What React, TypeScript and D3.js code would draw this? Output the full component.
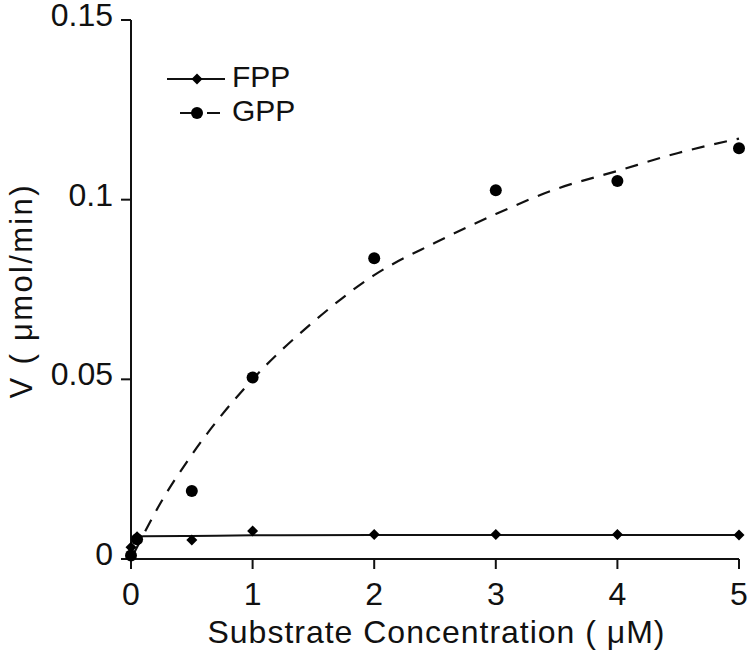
import React from 'react';
import * as d3 from 'd3';

// substrate concentrations (uM)
const concentrations = [0, 0.05, 0.5, 1, 2, 3, 4, 5];
// measured rates (umol/min)
const fppRates = [0.0033, 0.0062, 0.0053, 0.0078, 0.0068, 0.0068, 0.0068, 0.0067];
const gppRates = [0.001, 0.0055, 0.0189, 0.0505, 0.0837, 0.1026, 0.1052, 0.1143];

// fitted curves
const fppFitX = [0.03, 0.1, 0.5, 1, 2, 3, 4, 5];
const fppFitY = [0.005, 0.0063, 0.0064, 0.0066, 0.0067, 0.0067, 0.0067, 0.0067];
const gppFitX = [0.03, 0.25, 0.5, 1, 1.5, 2, 2.5, 3, 3.5, 4, 4.5, 5];
const gppFitY = [0.002, 0.016, 0.029, 0.05, 0.066, 0.079, 0.088, 0.096, 0.103, 0.108, 0.113, 0.117];

const xTicks = [0, 1, 2, 3, 4, 5];
const yTicks = [0, 0.05, 0.1, 0.15];
const yTickLabels = ['0', '0.05', '0.1', '0.15'];

const W = 750;
const H = 656;
const FONT = '"Liberation Sans", Arial, Helvetica, sans-serif';

const x = d3.scaleLinear().domain([0, 5]).range([131, 739]);
const y = d3.scaleLinear().domain([0, 0.15]).range([559, 20]);

const fitLine = d3.line<[number, number]>()
  .x((d) => x(d[0]))
  .y((d) => y(d[1]))
  .curve(d3.curveMonotoneX);

const diamond = (cx: number, cy: number, r = 5.5) =>
  `M${cx},${cy - r}L${cx + r},${cy}L${cx},${cy + r}L${cx - r},${cy}Z`;

export default function App() {
  const fppFit = fppFitX.map((v, i) => [v, fppFitY[i]] as [number, number]);
  const gppFit = gppFitX.map((v, i) => [v, gppFitY[i]] as [number, number]);

  return (
    <svg
      width={W}
      height={H}
      style={{ position: 'absolute', left: 0, top: 0, background: '#fff' }}
      fontFamily={FONT}
    >
      {/* axes */}
      <g stroke="#111" strokeWidth={2} fill="none">
        <line x1={x(0)} x2={x(0)} y1={y(0.15)} y2={y(0)} />
        <line x1={x(0)} x2={x(5)} y1={y(0)} y2={y(0)} />
        {yTicks.map((t) => (
          <line key={'yt' + t} x1={x(0) - 10} x2={x(0)} y1={y(t)} y2={y(t)} />
        ))}
        {xTicks.map((t) => (
          <line key={'xt' + t} x1={x(t)} x2={x(t)} y1={y(0)} y2={y(0) + 10} />
        ))}
      </g>
      {yTicks.map((t, i) => (
        <text key={'yl' + t} x={113} y={y(t) + 6} textAnchor="end" fontSize={32} fill="#111">
          {yTickLabels[i]}
        </text>
      ))}
      {xTicks.map((t) => (
        <text key={'xl' + t} x={x(t)} y={605} textAnchor="middle" fontSize={32} fill="#111">
          {t}
        </text>
      ))}
      <text x={436} y={643} textAnchor="middle" fontSize={32} fill="#111"
        textLength={457} lengthAdjust="spacing">
        Substrate Concentration ( μM)
      </text>
      <text transform="translate(32, 292) rotate(-90)" textAnchor="middle" fontSize={31} fill="#111"
        textLength={213} lengthAdjust="spacing">
        V ( μmol/min)
      </text>

      {/* fitted lines */}
      <path d={fitLine(fppFit) || ''} fill="none" stroke="#111" strokeWidth={2} />
      <path d={fitLine(gppFit) || ''} fill="none" stroke="#111" strokeWidth={2.2} strokeDasharray="13,10" />

      {/* data points */}
      {concentrations.map((c, i) => (
        <path key={'f' + i} d={diamond(x(c), y(fppRates[i]))} fill="#000" />
      ))}
      {concentrations.map((c, i) => (
        <circle key={'g' + i} cx={x(c)} cy={y(gppRates[i])} r={6} fill="#000" />
      ))}

      {/* legend */}
      <line x1={167} x2={225} y1={79} y2={79} stroke="#111" strokeWidth={2} />
      <path d={diamond(197, 79)} fill="#000" />
      <text x={232} y={87} fontSize={30} fill="#111">FPP</text>
      <line x1={180} x2={222} y1={113} y2={113} stroke="#111" strokeWidth={2} strokeDasharray="13,14" />
      <circle cx={197} cy={113} r={6} fill="#000" />
      <text x={232} y={121} fontSize={30} fill="#111">GPP</text>
    </svg>
  );
}
